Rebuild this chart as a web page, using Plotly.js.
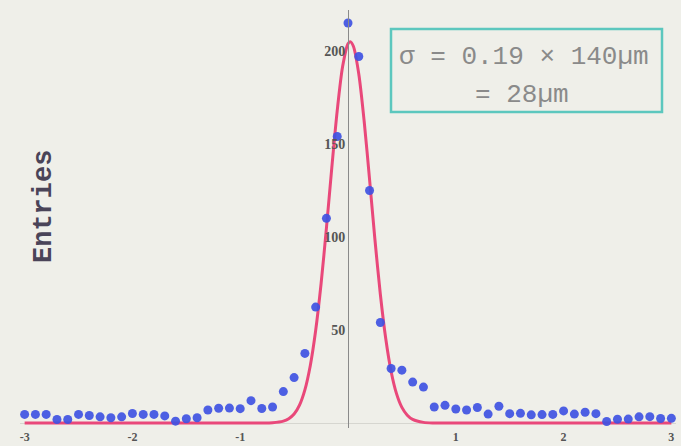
<!DOCTYPE html>
<html>
<head>
<meta charset="utf-8">
<script src="https://cdn.plot.ly/plotly-3.0.1.min.js"></script>
<style>
  html, body { margin: 0; padding: 0; background: #efefe9; }
  #chart { width: 681px; height: 446px; }
</style>
</head>
<body>
<div id="chart"></div>
<script>
// Residual positions (in units of the 140 µm pitch)
const binCenters = [
  -3.0, -2.9, -2.8, -2.7, -2.6, -2.5, -2.4, -2.3, -2.2, -2.1,
  -2.0, -1.9, -1.8, -1.7, -1.6, -1.5, -1.4, -1.3, -1.2, -1.1,
  -1.0, -0.9, -0.8, -0.7, -0.6, -0.5, -0.4, -0.3, -0.2, -0.1,
   0.0,  0.1,  0.2,  0.3,  0.4,  0.5,  0.6,  0.7,  0.8,  0.9,
   1.0,  1.1,  1.2,  1.3,  1.4,  1.5,  1.6,  1.7,  1.8,  1.9,
   2.0,  2.1,  2.2,  2.3,  2.4,  2.5,  2.6,  2.7,  2.8,  2.9,
   3.0
];
// Entries per bin
const entries = [
   4.6,  4.6,  4.6,  1.9,  1.9,  4.6,  4.0,  3.3,  2.8,  3.3,
   5.1,  4.6,  4.6,  3.8,  1.0,  2.3,  2.8,  7.0,  7.9,  8.0,
   7.7, 12.0,  7.8,  8.6, 16.9, 24.4, 37.4, 62.3, 110,  154,
   215,  197,  125,  54,   29.3, 28.4, 22.0, 19.3,  8.6,  9.5,
   7.5,  7.0,  8.3,  4.8,  9.0,  5.0,  5.2,  4.4,  4.5,  4.6,
   6.5,  4.8,  5.8,  5.0,  0.8,  2.0,  2.1,  3.3,  3.4,  2.4,
   2.5
];
// Fitted Gaussian curve
const fitX = [-3.0, -1.0, -0.8, -0.7, -0.6, -0.55, -0.5, -0.45, -0.4, -0.35, -0.3, -0.25, -0.2, -0.15, -0.1, -0.05,
              0.0, 0.02, 0.05, 0.1, 0.15, 0.2, 0.25, 0.3, 0.35, 0.4, 0.45, 0.5, 0.55, 0.6, 0.7, 0.8, 1.0, 3.0];
const fitY = [0, 0, 0.02, 0.16, 1.0, 2.3, 4.8, 9.6, 17.8, 30.8, 49.7, 74.7, 104.9, 137.4, 167.9, 191.6,
              203.9, 205, 202.5, 187.6, 162.2, 130.9, 98.5, 69.2, 45.4, 27.7, 15.8, 8.4, 4.2, 1.9, 0.34, 0.04, 0, 0];

const xTickVals = [-3, -2, -1, 1, 2, 3];
const xTickText = ['-3', '-2', '-1', '1', '2', '3'];
const yTickVals = [50, 100, 150, 200];
const yTickText = ['50', '100', '150', '200'];
const yTitle = 'Entries';
const boxLine1 = 'σ = 0.19 × 140µm';
const boxLine2 = '= 28µm';

const bg = '#efefe9';

const traces = [
  {
    x: fitX, y: fitY, type: 'scatter', mode: 'lines',
    line: { color: '#e9487a', width: 3, shape: 'spline', smoothing: 0.8 },
    hoverinfo: 'skip', showlegend: false
  },
  {
    x: binCenters, y: entries, type: 'scatter', mode: 'markers',
    marker: { color: '#3f52e2', size: 9, opacity: 0.92 },
    showlegend: false
  }
];

const L = 20, R = 5, T = 10, B = 18, W = 681, H = 446;
const pw = W - L - R, ph = H - T - B;
function px(xp) { return (xp - L) / pw; }
function py(yp) { return (H - B - yp) / ph; }

const layout = {
  width: W, height: H,
  margin: { l: L, r: R, t: T, b: B, pad: 0 },
  paper_bgcolor: bg, plot_bgcolor: bg,
  showlegend: false,
  xaxis: {
    range: [-3.043, 3.043],
    tickvals: xTickVals, ticktext: xTickText,
    ticks: '', showgrid: false, zeroline: false, showline: false,
    tickfont: { family: 'Liberation Serif', size: 12, color: '#555', weight: 'bold' }
  },
  yaxis: {
    range: [-2.69, 222],
    anchor: 'free', position: 0.5, side: 'left',
    tickvals: yTickVals, ticktext: yTickText,
    ticks: '', showgrid: false,
    showline: true, linecolor: '#8a8a8a', linewidth: 1,
    zeroline: true, zerolinecolor: '#d6d6d0', zerolinewidth: 1,
    tickfont: { family: 'Liberation Serif', size: 14, color: '#555', weight: 'bold' }
  },
  shapes: [
    {
      type: 'rect', xref: 'paper', yref: 'paper',
      x0: px(391), x1: px(662), y0: py(112), y1: py(29),
      line: { color: '#5cc7be', width: 2.5 }, fillcolor: 'rgba(0,0,0,0)'
    }
  ],
  annotations: [
    {
      text: yTitle, xref: 'paper', yref: 'paper',
      x: px(44), y: py(207), xanchor: 'center', yanchor: 'middle',
      textangle: -90, showarrow: false,
      font: { family: 'Liberation Mono', size: 27, color: '#4a4458', weight: 'bold' }
    },
    {
      text: boxLine1, xref: 'paper', yref: 'paper',
      x: px(524), y: py(57), xanchor: 'center', yanchor: 'middle', showarrow: false,
      font: { family: 'Liberation Mono', size: 26, color: '#8a8a8a' }
    },
    {
      text: boxLine2, xref: 'paper', yref: 'paper',
      x: px(522), y: py(95), xanchor: 'center', yanchor: 'middle', showarrow: false,
      font: { family: 'Liberation Mono', size: 26, color: '#8a8a8a' }
    }
  ]
};

Plotly.newPlot('chart', traces, layout, { displayModeBar: false, staticPlot: true });
</script>
</body>
</html>
